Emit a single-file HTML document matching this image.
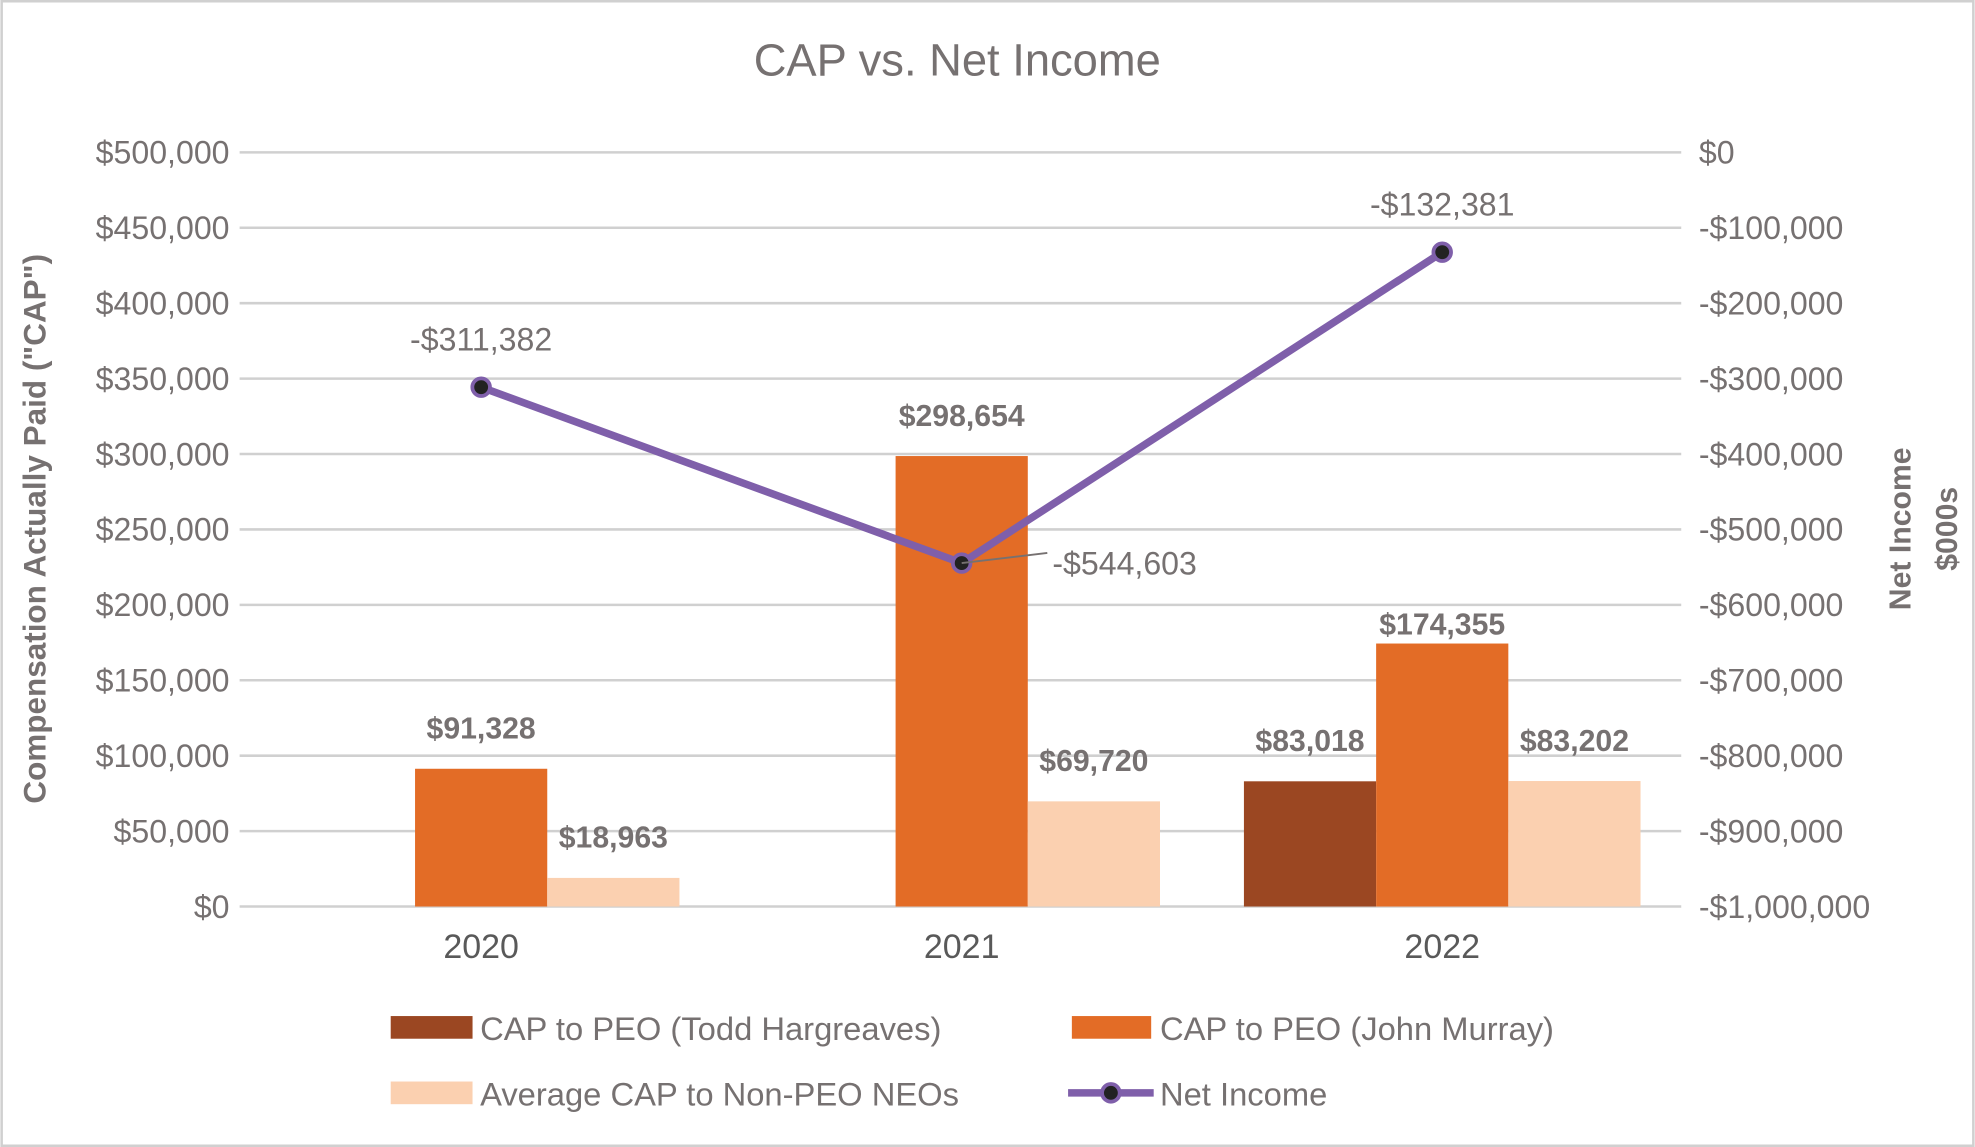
<!DOCTYPE html>
<html><head><meta charset="utf-8"><style>
html,body{margin:0;padding:0;background:#fff;}
svg{display:block;font-family:"Liberation Sans",Arial,sans-serif;}
</style></head><body>
<svg id="chart" width="1975" height="1147" viewBox="0 0 1568 911" xmlns="http://www.w3.org/2000/svg">
<rect x="1" y="1" width="1566" height="909" fill="#fff" stroke="#d0d0d0" stroke-width="2"/>
<text x="760" y="60" text-anchor="middle" font-size="36" fill="#767171">CAP vs. Net Income</text>
<g id="grid"></g><g id="bars"></g><g id="line"></g><g id="labels"></g>
<text transform="translate(36,420) rotate(-90)" text-anchor="middle" font-size="25" font-weight="bold" fill="#767171">Compensation Actually Paid ("CAP")</text>
<text transform="translate(1517,420) rotate(-90)" text-anchor="middle" font-size="24" font-weight="bold" fill="#767171">Net Income</text>
<text transform="translate(1554,420) rotate(-90)" text-anchor="middle" font-size="24" font-weight="bold" fill="#767171">$000s</text>
<g font-size="26" fill="#767171">
<rect x="310" y="807" width="65" height="18" fill="#9B4722"/>
<text x="381" y="826">CAP to PEO (Todd Hargreaves)</text>
<rect x="851" y="807" width="63" height="18" fill="#E36C26"/>
<text x="921" y="826">CAP to PEO (John Murray)</text>
<rect x="310" y="859" width="65" height="18" fill="#FBD0B0"/>
<text x="381" y="878">Average CAP to Non-PEO NEOs</text>
<line x1="848" y1="868" x2="916" y2="868" stroke="#7F5FAA" stroke-width="6"/>
<circle cx="882" cy="868" r="7" fill="#222" stroke="#7F5FAA" stroke-width="3"/>
<text x="921" y="878">Net Income</text>
</g>
</svg>
<script>
const categories=["2020","2021","2022"];
const todd=[null,null,83018];
const john=[91328,298654,174355];
const neo=[18963,69720,83202];
const netIncome=[-311382,-544603,-132381];
const leftTicks=[0,50000,100000,150000,200000,250000,300000,350000,400000,450000,500000];
const rightTicks=[0,-100000,-200000,-300000,-400000,-500000,-600000,-700000,-800000,-900000,-1000000];

const NS="http://www.w3.org/2000/svg";
const X0=190,X1=1335,YT=121,YB=720;
const yL=v=>YB-(v/500000)*(YB-YT);
const yR=v=>YT+(-v/1000000)*(YB-YT);
const xC=i=>X0+(X1-X0)/categories.length*(i+0.5)+1;
const fmt=v=>(v<0?"-":"")+"$"+Math.abs(v).toLocaleString("en-US");
function mk(tag,attrs,parent,text){const e=document.createElementNS(NS,tag);for(const k in attrs)e.setAttribute(k,attrs[k]);if(text!=null)e.textContent=text;parent.appendChild(e);return e;}
const grid=document.getElementById("grid"),bars=document.getElementById("bars"),line=document.getElementById("line"),labels=document.getElementById("labels");
leftTicks.forEach((t,i)=>{
  const g=mk("line",{x1:X0,x2:X1,y1:yL(t),y2:yL(t),stroke:"#d0d0d0","stroke-width":2},grid);
  
  
  const l=mk("text",{x:182,y:yL(t)+9,"text-anchor":"end","font-size":25.5,fill:"#767171"},grid,fmt(t));
  
  
});
rightTicks.forEach(t=>{
  const l=mk("text",{x:1349,y:yR(t)+9,"font-size":25.5,fill:"#767171"},grid,fmt(t));
  
  
});
categories.forEach((c,i)=>{
  const l=mk("text",{x:xC(i),y:761,"text-anchor":"middle","font-size":27,fill:"#595959"},grid,c);
  
  
});
const BW=105;
const series=[[todd,"#9B4722",-1.5,"todd"],[john,"#E36C26",-0.5,"john"],[neo,"#FBD0B0",0.5,"neo"]];
series.forEach(([arr,col,off,nm])=>{
  arr.forEach((v,i)=>{
    if(v==null)return;
    const x=xC(i)+off*BW;
    const r=mk("rect",{x:x,y:yL(v),width:BW,height:YB-yL(v),fill:col},bars);
    
    
    const dy=(nm==="john"&&i===2)?7:24;
    const t=mk("text",{x:x+BW/2,y:yL(v)-dy,"text-anchor":"middle","font-size":24,"font-weight":"bold",fill:"#767171"},labels,fmt(v));
    
    
  });
});
const pts=netIncome.map((v,i)=>[xC(i),yR(v)]);
const pl=mk("polyline",{points:pts.map(p=>p.join(",")).join(" "),fill:"none",stroke:"#7F5FAA","stroke-width":6,"stroke-linejoin":"round"},line);


pts.forEach((p,i)=>{
  const c=mk("circle",{cx:p[0],cy:p[1],r:7,fill:"#222",stroke:"#7F5FAA","stroke-width":3},line);
  
  
  let tx=p[0],ty=p[1]-29,anchor="middle";
  if(i===1){tx=p[0]+72;ty=p[1]+9;anchor="start";
    const ld=mk("line",{x1:p[0],y1:p[1],x2:p[0]+68,y2:p[1]-8,stroke:"#767171","stroke-width":1.5},labels);
    
    }
  const t=mk("text",{x:tx,y:ty,"text-anchor":anchor,"font-size":25.5,fill:"#767171"},labels,fmt(netIncome[i]));
  
  
});
</script>
</body></html>
